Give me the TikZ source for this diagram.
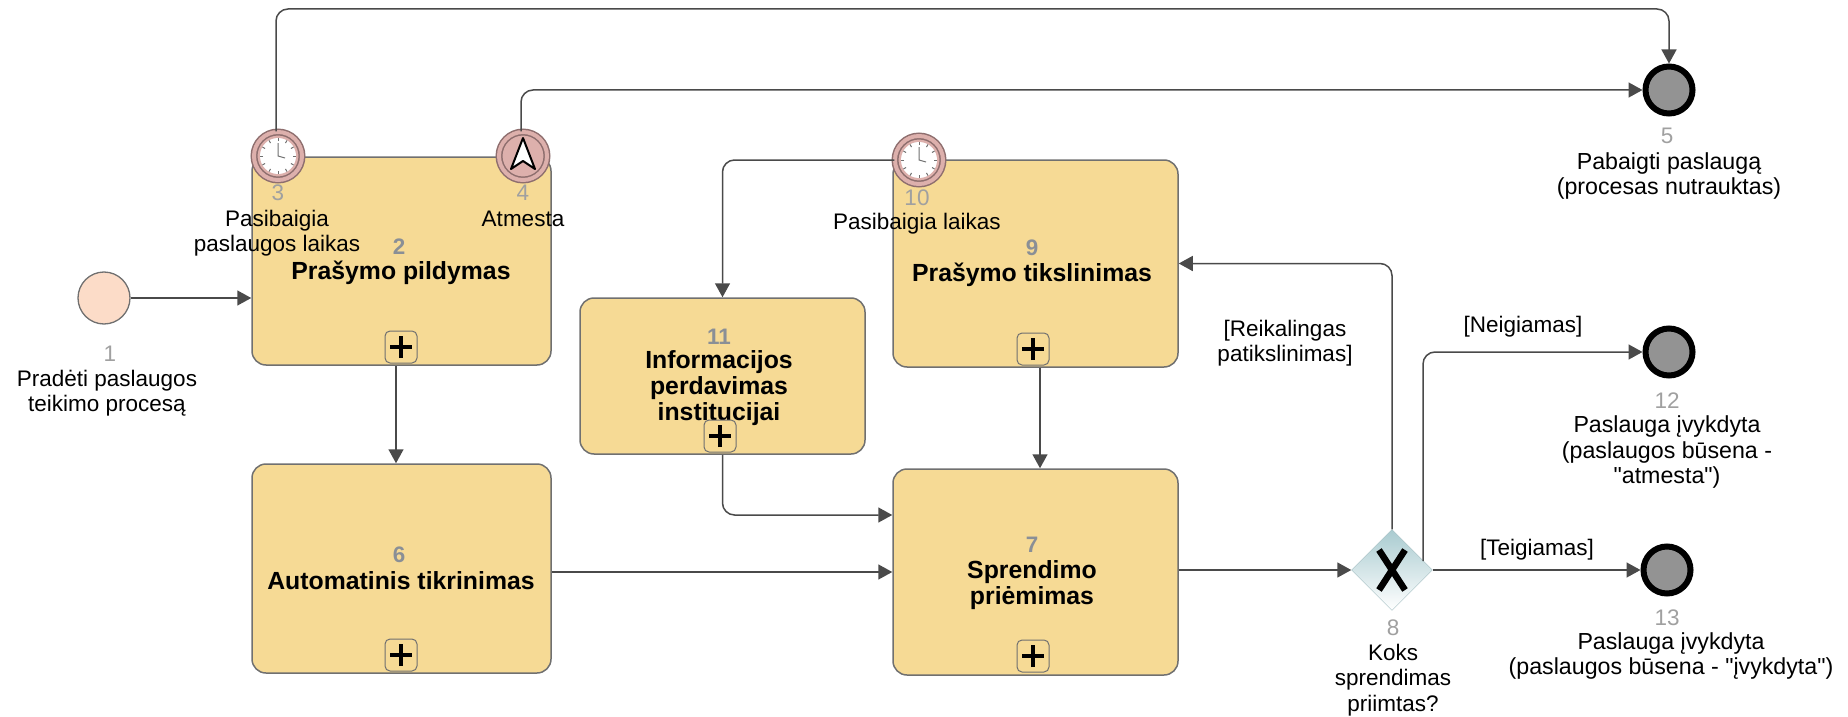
\documentclass[tikz,border=0pt]{standalone}
\usepackage{fontspec}
\setmainfont{Liberation Sans}
\newfontfamily\plainfont{Liberation Sans}
\usetikzlibrary{shapes.geometric, arrows.meta}

\definecolor{taskfill}{HTML}{F6DA95}
\definecolor{linegray}{HTML}{4A4A4A}
\definecolor{boxgray}{HTML}{707070}
\definecolor{numgray}{HTML}{8A8F96}
\definecolor{numlight}{HTML}{A0A0A0}
\definecolor{startfill}{HTML}{FCDCC8}
\definecolor{eventfill}{HTML}{DDB0AC}
\definecolor{eventline}{HTML}{8E6E6E}
\definecolor{endfill}{HTML}{939393}
\definecolor{gatetop}{HTML}{A9CBD0}

\tikzset{
    clockface/.pic = {
        \fill[white] (0,0) circle (18);
        \foreach \a in {0,30,...,330}
            \draw[boxgray, line width=1pt] (\a:15) -- (\a:18);
        \draw[boxgray, line width=1pt] (0,-13) -- (0,0) -- (7,2);
    },
}

\begin{document}
\begin{tikzpicture}[
        x=1pt, y=-1pt,
        font=\fontsize{22.5}{25.5}\selectfont,
        flow/.style = {draw=linegray, line width=1.5pt, rounded corners=12pt, -{Triangle[length=14pt, width=15pt]}},
        task/.style = {draw=boxgray, line width=1.5pt, fill=taskfill, rounded corners=14pt},
        plusbox/.style = {draw=boxgray, line width=1pt, fill=taskfill, rounded corners=5pt, minimum size=32pt, inner sep=0pt,
            path picture={\draw[black, line width=3.2pt] (path picture bounding box.center) ++(-11pt,0) -- ++(22pt,0)
                (path picture bounding box.center) ++(0,-11pt) -- ++(0,22pt);}},
        start/.style = {circle, draw=boxgray, line width=1.3pt, fill=startfill, minimum size=52pt, inner sep=0pt},
        finish/.style = {circle, draw=black, line width=6pt, fill=endfill, minimum size=47pt, inner sep=0pt},
        event/.style = {circle, draw=eventline, line width=1.5pt, double=eventfill, double distance=4pt, fill=eventfill, minimum size=48pt, inner sep=0pt},
        gate/.style = {diamond, draw=gatetop!80!gray, top color=gatetop, bottom color=white, minimum size=81pt, inner sep=0pt},
        num/.style = {text=numlight, inner sep=0pt},
        tasknum/.style = {text=numgray, inner sep=0pt, font=\fontsize{22.4}{25.5}\selectfont\bfseries},
        lbl/.style = {align=center, inner sep=0pt, text=black},
        lblwide/.style = {lbl, font=\fontsize{23.2}{25.5}\selectfont},
        head/.style = {align=center, inner sep=0pt, font=\fontsize{24.8}{26.2}\selectfont\bfseries},
    ]

    % Uzduotys
    \node[task, minimum width=299pt, minimum height=208pt] (task2) at (401.5,261) {};
    \node[task, minimum width=299pt, minimum height=209pt] (task6) at (401.5,568.5) {};
    \node[task, minimum width=285pt, minimum height=156pt] (task11) at (722.5,376) {};
    \node[task, minimum width=285pt, minimum height=207pt] (task9) at (1035.5,263.5) {};
    \node[task, minimum width=285pt, minimum height=206pt] (task7) at (1035.5,572) {};

    \node[head] (head2) at (401,273) {Prašymo pildymas};
    \node[head] (head6) at (401,581) {Automatinis tikrinimas};
    \node[head] (head11) at (719,388) {Informacijos\\perdavimas\\ institucijai};
    \node[head] (head9) at (1032,275) {Prašymo tikslinimas};
    \node[head] (head7) at (1032,585) {Sprendimo\\priėmimas};

    \node[tasknum] (num2) at (399,247) {2};
    \node[tasknum] (num6) at (399,555) {6};
    \node[tasknum] (num11) at (719,337) {11};
    \node[tasknum] (num9) at (1032,248) {9};
    \node[tasknum] (num7) at (1032,545) {7};

    \node[plusbox] (plus2) at (401,347) {};
    \node[plusbox] (plus6) at (401,655) {};
    \node[plusbox] (plus11) at (720,436) {};
    \node[plusbox] (plus9) at (1033,349) {};
    \node[plusbox] (plus7) at (1033,656) {};

    % Ivykiai
    \node[start] (start1) at (104,298) {};
    \node[event] (timer3) at (278,156) {};
    \node[event] (nav4) at (523,156) {};
    \node[event] (timer10) at (919,160) {};
    \node[finish] (end5) at (1669,90) {};
    \node[finish] (end12) at (1669,352) {};
    \node[finish] (end13) at (1667,570) {};
    \node[gate] (gate8) at (1392,570) {};

    \pic at (timer3) {clockface};
    \pic at (timer10) {clockface};
    \fill[white, draw=black, line width=2pt, line join=round] ([yshift=18pt]nav4.center) -- ++(12,31) -- ++(-12,-8) -- ++(-12,8) -- cycle;
    \draw[black, line width=6.5pt] ([shift={(-13pt,-20pt)}]gate8.center) -- ([shift={(13pt,20pt)}]gate8.center)
        ([shift={(13pt,-20pt)}]gate8.center) -- ([shift={(-13pt,20pt)}]gate8.center);

    % Jungtys
    \draw[flow] (start1) -- (task2.west |- start1);
    \draw[flow] ([xshift=-5.5pt]task2.south) -- ([xshift=-5.5pt]task6.north);
    \draw[flow] (task6.east |- task7.west) -- (task7.west);
    \draw[flow] (task11.south) |- ([yshift=57pt]task7.west);
    \draw[flow] (timer10) -| (task11.north);
    \draw[flow] ([xshift=4.5pt]task9.south) -- ([xshift=4.5pt]task7.north);
    \draw[flow] (task7.east |- gate8) -- (gate8);
    \draw[flow] (gate8.north) |- (task9.east);
    \draw[flow] ([shift={(31pt,9pt)}]gate8.center) |- (end12);
    \draw[flow] (gate8) -- (end13);
    \draw[flow] ([xshift=-2pt]timer3.north) |- (1669,9) -- (end5);
    \draw[flow] ([xshift=-2pt]nav4.north) |- (end5);

    % Uzrasai
    \node[lbl] (lbl1) at (107,393) {Pradėti paslaugos\\teikimo procesą};
    \node[num] (num1) at (110,354) {1};
    \node[num] (num3) at (278,193) {3};
    \node[lbl] (lbl3) at (277,233) {Pasibaigia\\paslaugos laikas};
    \node[num] (num4) at (523,193) {4};
    \node[lbl] (lbl4) at (523,219) {Atmesta};
    \node[num] (num10) at (917,198) {10};
    \node[lbl] (lbl10) at (917,224) {Pasibaigia laikas};
    \node[num] (num5) at (1667,136) {5};
    \node[lblwide] (lbl5) at (1669,176) {Pabaigti paslaugą\\(procesas nutrauktas)};
    \node[num] (num12) at (1667,401) {12};
    \node[lblwide] (lbl12) at (1667,452) {Paslauga įvykdyta\\(paslaugos būsena -\\{\plainfont"atmesta")}};
    \node[num] (num13) at (1667,618) {13};
    \node[lblwide] (lbl13) at (1671,656) {Paslauga įvykdyta\\(paslaugos būsena - {\plainfont"įvykdyta")}};
    \node[num] (num8) at (1393,628) {8};
    \node[lbl] (lbl8) at (1393,680) {Koks\\sprendimas\\ priimtas?};
    \node[lbl] (lblneg) at (1523,327) {[Neigiamas]};
    \node[lbl] (lblteig) at (1537,550) {[Teigiamas]};
    \node[lbl] (lblreik) at (1285,343) {[Reikalingas\\patikslinimas]};

    \useasboundingbox (0,0) rectangle (1848,717);
\end{tikzpicture}
\end{document}
